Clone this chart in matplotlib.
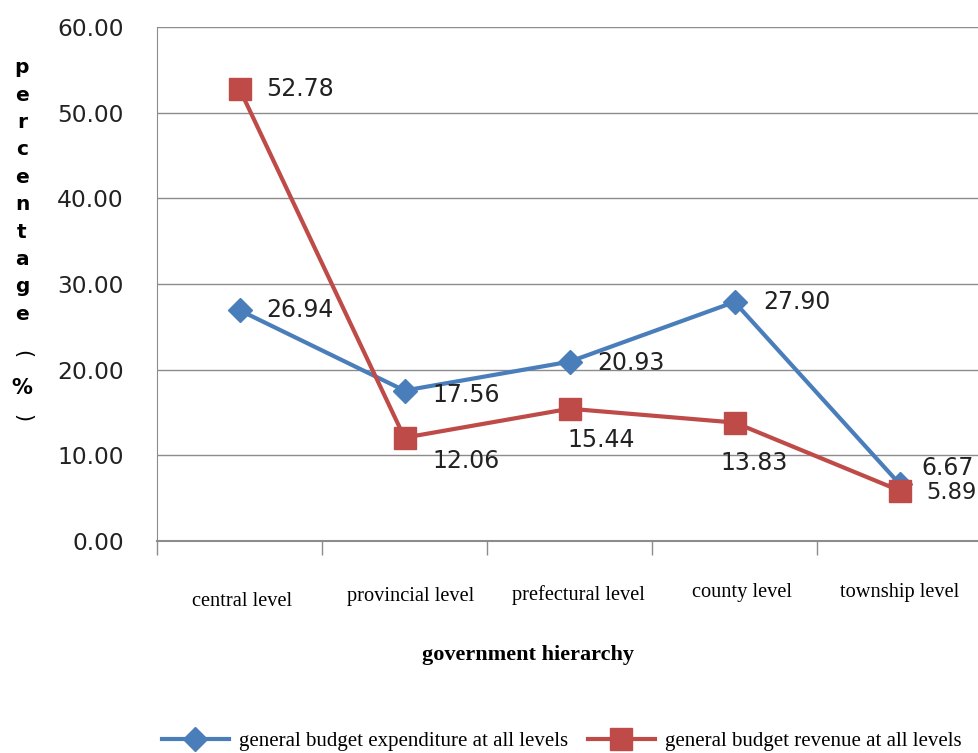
import matplotlib
matplotlib.use("Agg")
import matplotlib.pyplot as plt
from matplotlib.transforms import blended_transform_factory

categories = ["central level", "provincial level", "prefectural level", "county level", "township level"]
expenditure = [26.94, 17.56, 20.93, 27.90, 6.67]
revenue = [52.78, 12.06, 15.44, 13.83, 5.89]
yticks = [0, 10, 20, 30, 40, 50, 60]

BLUE = "#4A7EBB"
RED = "#BE4B48"
GRID = "#8C8C8C"
TXT = "#222222"

fig = plt.figure(figsize=(9.79, 7.53), dpi=100)
ax = fig.add_axes([157/979, 1-541/753, (982-157)/979, (541-27)/753])

x = list(range(len(categories)))
l1, = ax.plot(x, expenditure, color=BLUE, lw=3, marker="D", ms=12, mfc=BLUE, mec=BLUE,
              label="general budget expenditure at all levels", zorder=3)
l2, = ax.plot(x, revenue, color=RED, lw=3, marker="s", ms=16, mfc=RED, mec=RED,
              label="general budget revenue at all levels", zorder=4)

ax.set_xlim(-0.5, len(categories) - 0.5)
ax.set_ylim(0, 60)
ax.set_yticks(yticks)
ax.set_yticklabels([f"{v:.2f}" for v in yticks], fontsize=16.8, family="DejaVu Sans", color=TXT)
ax.yaxis.grid(True, color=GRID, lw=1)
ax.set_axisbelow(True)
ax.tick_params(axis="y", length=0, pad=24)
for s in ["top", "right"]:
    ax.spines[s].set_visible(False)
ax.spines["left"].set_color(GRID)
ax.spines["bottom"].set_color(GRID)
ax.spines["bottom"].set_linewidth(1.5)

ax.set_xticks([i - 0.5 for i in range(len(categories) + 1)])
ax.set_xticklabels([])
ax.tick_params(axis="x", length=10, color=GRID, width=1)

tr = blended_transform_factory(ax.transData, ax.transAxes)
cat_off = [(3, -61), (6, -56), (9, -54), (7, -52), (0, -52)]
for i, c in enumerate(categories):
    ax.annotate(c, (i, 0), xycoords=tr, xytext=cat_off[i], textcoords="offset pixels",
                ha="center", va="center", fontsize=14.7, family="Liberation Serif")

exp_off = [(27, 0), (28, -4), (28, -1), (29, 0), (22, 16)]
rev_off = [(27, 0), (28, -23), (-2, -31), (-14, -40), (27, -2)]
for i, v in enumerate(expenditure):
    ax.annotate(f"{v:.2f}", (i, v), xytext=exp_off[i], textcoords="offset pixels",
                ha="left", va="center", fontsize=17, family="DejaVu Sans", color=TXT, zorder=5)
for i, v in enumerate(revenue):
    ax.annotate(f"{v:.2f}", (i, v), xytext=rev_off[i], textcoords="offset pixels",
                ha="left", va="center", fontsize=17 if i < 4 else 16.3, family="DejaVu Sans",
                color=TXT, zorder=5)

fig.text(528/979, 1-655/753, "government hierarchy", ha="center", va="center",
         fontsize=16, fontweight="bold", family="Liberation Serif")

# vertical y-axis label: "percentage（%）" written top-to-bottom
ylab = "\n".join(list("percentage"))
fig.text(22/979, 1-191/753, ylab, ha="center", va="center", fontsize=14.5, fontweight="bold",
         family="DejaVu Sans", linespacing=1.56)
fig.text(22/979, 1-354/753, "(", ha="center", va="center", fontsize=15, rotation=-90,
         family="DejaVu Sans")
fig.text(22/979, 1-388/753, "%", ha="center", va="center", fontsize=15, fontweight="bold",
         family="DejaVu Sans")
fig.text(22/979, 1-418/753, ")", ha="center", va="center", fontsize=15, rotation=-90,
         family="DejaVu Sans")

leg = fig.legend(handles=[l1, l2], loc="center", bbox_to_anchor=(562/979, 1-741/753),
                 ncol=2, frameon=False, prop={"family": "Liberation Serif", "size": 15},
                 handlelength=3.2, columnspacing=0.95, handletextpad=0.5)

fig.savefig("out.png", dpi=100)
